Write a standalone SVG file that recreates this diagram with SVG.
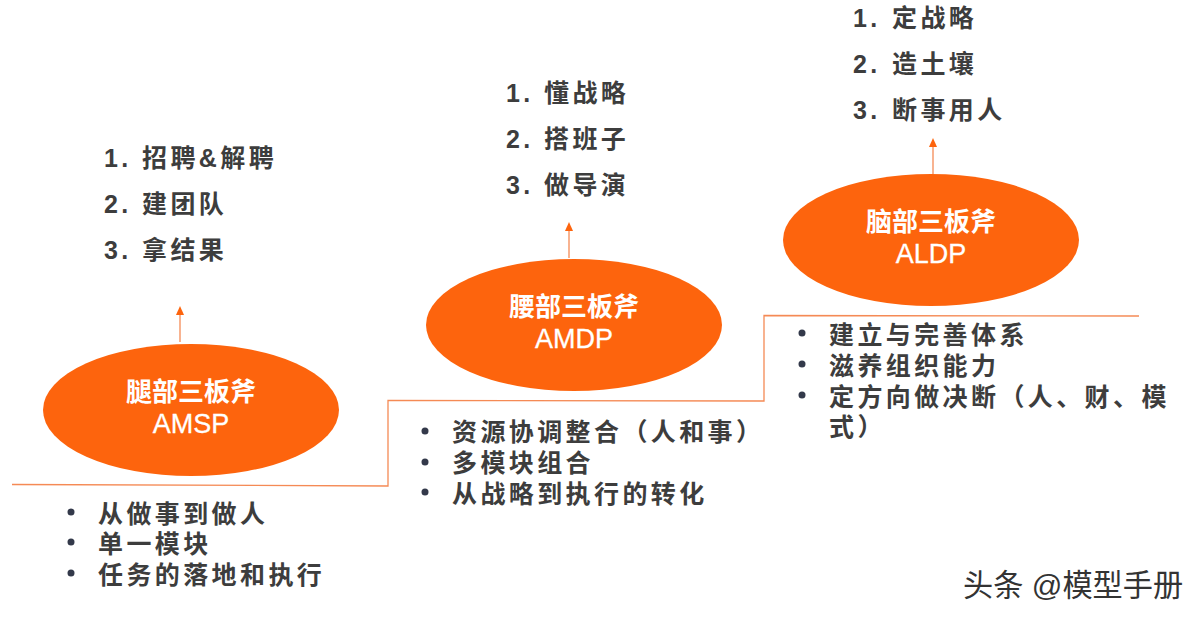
<svg xmlns="http://www.w3.org/2000/svg" width="1202" height="620" viewBox="0 0 1202 620">
<style>
text{font-family:"Liberation Sans","Noto Sans CJK SC",sans-serif}
.n{font-size:25px;font-weight:700;fill:#3d3d3d;letter-spacing:3.4px}
.w{font-size:26px;font-weight:700;fill:#fff;text-anchor:middle}
.l{font-size:27px;font-weight:400;fill:#fff;text-anchor:middle;stroke:#fff;stroke-width:.3}
.e{fill:#fd640d}
.c{fill:none;stroke:#f58a55;stroke-width:1.3}
.a{fill:none;stroke:#f58a55;stroke-width:1.3}
.h{fill:#fd640d}
.b{fill:#33394a}
.m{font-size:30.200px;fill:#333;font-weight:400}
</style>
<g id="connectors">
<path class="c" d="M12 484.500L388 486V400.500L764 401V315.500L1139 316"/>
<path class="a" d="M180 342V312"/><path class="h" d="M180 306l4 9h-8z"/>
<path class="a" d="M569 258V229"/><path class="h" d="M569 222l4 9h-8z"/>
<path class="a" d="M933 174V145"/><path class="h" d="M933 138l4 9h-8z"/>
</g>
<g id="node-amsp"><ellipse class="e" cx="191" cy="410" rx="148" ry="66"/>
<text class="w" x="191" y="401">腿部三板斧</text><text class="l" x="191" y="433">AMSP</text></g>
<g id="node-amdp"><ellipse class="e" cx="574" cy="325" rx="148" ry="66"/>
<text class="w" x="574" y="316">腰部三板斧</text><text class="l" x="574" y="348">AMDP</text></g>
<g id="node-aldp"><ellipse class="e" cx="931" cy="240" rx="148" ry="66"/>
<text class="w" x="931" y="231">脑部三板斧</text><text class="l" x="931" y="263">ALDP</text></g>
<g id="list-amsp-steps">
<text class="n" x="104" y="166.500">1.</text><text class="n" x="142" y="166.500">招聘&amp;解聘</text>
<text class="n" x="104" y="212.500">2.</text><text class="n" x="142" y="212.500">建团队</text>
<text class="n" x="104" y="258.500">3.</text><text class="n" x="142" y="258.500">拿结果</text>
</g>
<g id="list-amdp-steps">
<text class="n" x="506" y="101.500">1.</text><text class="n" x="544" y="101.500">懂战略</text>
<text class="n" x="506" y="147.500">2.</text><text class="n" x="544" y="147.500">搭班子</text>
<text class="n" x="506" y="193.500">3.</text><text class="n" x="544" y="193.500">做导演</text>
</g>
<g id="list-aldp-steps">
<text class="n" x="853" y="26.500">1.</text><text class="n" x="892" y="26.500">定战略</text>
<text class="n" x="853" y="72.500">2.</text><text class="n" x="892" y="72.500">造土壤</text>
<text class="n" x="853" y="118.500">3.</text><text class="n" x="892" y="118.500">断事用人</text>
</g>
<g id="list-amsp-bullets">
<circle class="b" cx="71" cy="512" r="3.500"/><text class="n" x="98" y="522.500">从做事到做人</text>
<circle class="b" cx="71" cy="542" r="3.500"/><text class="n" x="98" y="552.500">单一模块</text>
<circle class="b" cx="71" cy="573" r="3.500"/><text class="n" x="98" y="583.500">任务的落地和执行</text>
</g>
<g id="list-amdp-bullets">
<circle class="b" cx="425" cy="431" r="3.500"/><text class="n" x="452" y="440.500">资源协调整合（人和事）</text>
<circle class="b" cx="425" cy="462" r="3.500"/><text class="n" x="452" y="471.500">多模块组合</text>
<circle class="b" cx="425" cy="492" r="3.500"/><text class="n" x="452" y="502.500">从战略到执行的转化</text>
</g>
<g id="list-aldp-bullets">
<circle class="b" cx="802" cy="333" r="3.500"/><text class="n" x="829" y="343.500">建立与完善体系</text>
<circle class="b" cx="802" cy="364" r="3.500"/><text class="n" x="829" y="374.500">滋养组织能力</text>
<circle class="b" cx="802" cy="395" r="3.500"/><text class="n" x="829" y="405.500">定方向做决断（人、财、模</text>
<text class="n" x="829" y="435.500">式）</text>
</g>
<text class="m" x="963" y="596">头条 @模型手册</text>
</svg>
